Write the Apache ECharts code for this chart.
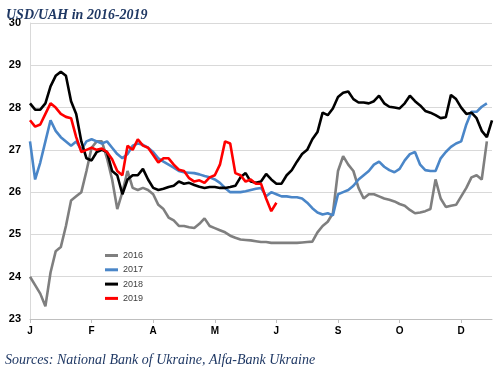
<!DOCTYPE html>
<html>
<head>
<meta charset="utf-8">
<script src="https://cdn.jsdelivr.net/npm/echarts@6/dist/echarts.min.js"></script>
<style>html,body{margin:0;padding:0;background:#fff}#c{width:500px;height:371px}</style>
</head>
<body>
<div id="c"></div>
<script>
// Month tick labels, one every 12 positions
var monthLabels = ['J','F','A','M','J','S','O','D'];
var labelStep = 12;
var nPoints = 91;

var s2016 = [24.0,23.8,23.6,23.3,24.1,24.6,24.7,25.2,25.8,25.9,26.0,26.5,27.05,27.2,27.2,26.8,26.3,25.6,26.0,26.5,
  26.1,26.05,26.1,26.05,25.95,25.7,25.6,25.4,25.33,25.2,25.2,25.17,25.15,25.25,25.38,25.2,25.15,25.1,25.05,24.97,
  24.92,24.88,24.87,24.86,24.84,24.82,24.82,24.8,24.8,24.8,24.8,24.8,24.8,24.81,24.82,24.83,25.05,25.2,25.3,25.5,
  26.5,26.85,26.65,26.5,26.1,25.85,25.95,25.95,25.9,25.85,25.82,25.78,25.72,25.68,25.58,25.5,25.52,25.55,25.6,26.3,
  25.85,25.65,25.68,25.7,25.9,26.1,26.35,26.4,26.3,27.2,null];
var s2017 = [27.2,26.3,26.7,27.2,27.7,27.45,27.3,27.2,27.1,27.2,27.0,27.2,27.25,27.2,27.15,27.2,27.05,26.9,26.8,26.9,
  27.1,27.15,27.12,27.05,26.95,26.8,26.72,26.65,26.58,26.5,26.47,26.46,26.45,26.42,26.38,26.35,26.3,26.22,26.1,26.0,
  26.0,26.0,26.02,26.05,26.08,26.1,25.9,26.0,25.95,25.9,25.9,25.88,25.88,25.85,25.75,25.62,25.52,25.47,25.5,25.45,
  25.95,26.0,26.05,26.15,26.3,26.4,26.5,26.65,26.72,26.6,26.52,26.47,26.55,26.75,26.9,26.95,26.65,26.52,26.5,26.5,
  26.8,26.95,27.07,27.15,27.2,27.6,27.9,27.9,28.02,28.1,null];
var s2018 = [28.1,27.95,27.95,28.1,28.5,28.75,28.85,28.75,28.15,27.85,27.2,26.8,26.75,26.95,27.0,26.95,26.5,26.4,25.95,26.3,
  26.4,26.4,26.55,26.3,26.1,26.05,26.08,26.12,26.15,26.25,26.2,26.22,26.17,26.13,26.1,26.12,26.12,26.1,26.1,26.12,
  26.15,26.35,26.45,26.25,26.22,26.25,26.43,26.3,26.2,26.2,26.4,26.52,26.72,26.9,27.0,27.25,27.42,27.88,27.82,27.98,
  28.25,28.35,28.38,28.2,28.12,28.12,28.1,28.15,28.28,28.1,28.02,28.0,27.98,28.1,28.28,28.15,28.05,27.92,27.88,27.82,
  27.75,27.77,28.3,28.2,28.0,27.85,27.88,27.75,27.45,27.3,27.7];
var s2019 = [27.7,27.55,27.6,27.85,28.1,28.0,27.85,27.78,27.75,27.3,26.95,27.0,27.05,27.0,27.03,26.95,26.78,26.5,26.4,27.1,
  27.0,27.25,27.1,27.05,26.88,26.7,26.8,26.8,26.65,26.53,26.5,26.33,26.25,26.28,26.22,26.35,26.4,26.65,27.2,27.15,
  26.45,26.4,26.25,26.3,26.2,26.2,25.85,25.55,25.75];

var categories = [];
for (var i = 0; i < nPoints; i++) categories.push(i);

var chart = echarts.init(document.getElementById('c'), null, {renderer: 'canvas'});
function mk(name, data, color) {
  return {name: name, type: 'line', data: data, showSymbol: false, symbol: 'none',
    lineStyle: {color: color, width: 2.6}, itemStyle: {color: color}, connectNulls: false};
}
chart.setOption({
  animation: false,
  backgroundColor: '#fff',
  title: [
    {text: 'USD/UAH in 2016-2019', left: 1, top: 3,
     textStyle: {fontFamily: 'Liberation Serif', fontStyle: 'italic', fontWeight: 'bold', fontSize: 14, color: '#1f3864'}},
    {text: 'Sources: National Bank of Ukraine, Alfa-Bank Ukraine', left: 0, top: 348,
     textStyle: {fontFamily: 'Liberation Serif', fontStyle: 'italic', fontWeight: 'normal', fontSize: 14, color: '#1f3864'}}
  ],
  legend: {
    orient: 'vertical', left: 100, top: 246, itemGap: 5.3,
    itemWidth: 13, itemHeight: 3, icon: 'rect',
    textStyle: {fontFamily: 'Liberation Sans', fontSize: 9, color: '#404040'},
    data: ['2016','2017','2018','2019']
  },
  grid: {left: 30, right: 8, top: 23, bottom: 52, containLabel: false},
  xAxis: {
    type: 'category', data: categories, boundaryGap: false,
    axisLine: {show: true, lineStyle: {color: '#bfbfbf', width: 1}},
    axisTick: {show: true, length: 4, lineStyle: {color: '#bfbfbf'},
      interval: function (idx) { return idx % labelStep === 0; }},
    axisLabel: {interval: function (idx) { return idx % labelStep === 0; },
      formatter: function (v, idx) { return monthLabels[idx / labelStep] || ''; },
      fontFamily: 'Liberation Sans', fontWeight: 'bold', fontSize: 10, color: '#000', margin: 7},
    splitLine: {show: false}
  },
  yAxis: {
    type: 'value', min: 23, max: 30, interval: 1,
    axisLine: {show: true, lineStyle: {color: '#d9d9d9'}},
    axisTick: {show: false},
    axisLabel: {fontFamily: 'Liberation Sans', fontWeight: 'bold', fontSize: 11, color: '#000', margin: 9},
    splitLine: {show: true, lineStyle: {color: '#d9d9d9', width: 1}}
  },
  series: [
    mk('2016', s2016, '#7f7f7f'),
    mk('2017', s2017, '#4a86c8'),
    mk('2018', s2018, '#000000'),
    mk('2019', s2019, '#ff0000')
  ]
});
</script>
</body>
</html>
